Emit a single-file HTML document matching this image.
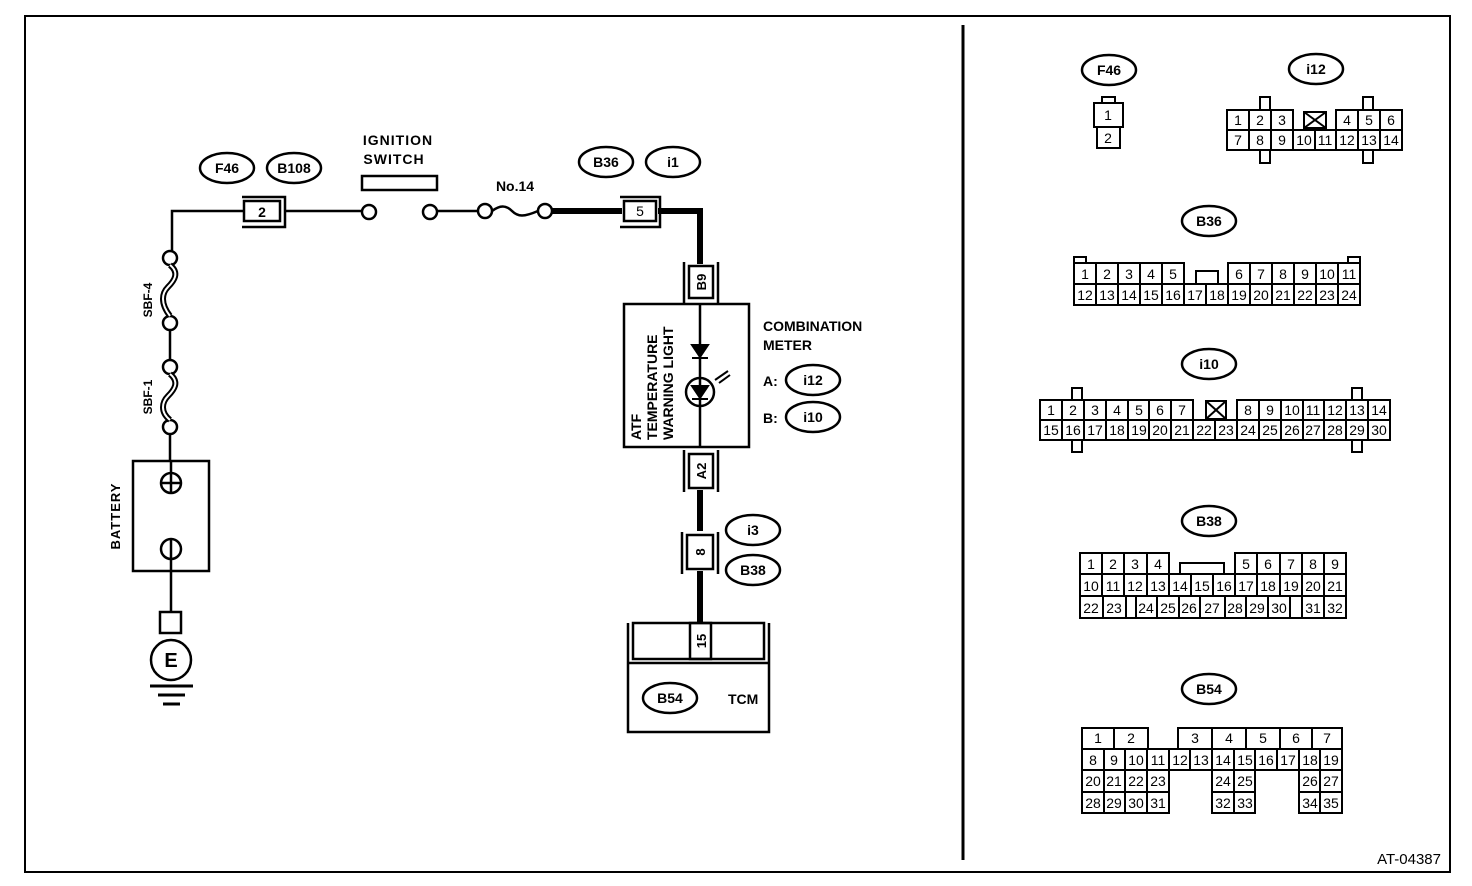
<!DOCTYPE html>
<html><head><meta charset="utf-8"><style>
html,body{margin:0;padding:0;background:#fff;}
svg{display:block;font-family:"Liberation Sans",Arial,sans-serif;}
.b{font-weight:bold;font-size:14px;}
.c{font-size:14px;}
</style></head><body>
<svg width="1472" height="886" viewBox="0 0 1472 886" xmlns="http://www.w3.org/2000/svg">
<rect x="25" y="16" width="1425" height="856" fill="none" stroke="#000" stroke-width="2"/>
<line x1="963" y1="25" x2="963" y2="860" stroke="#000" stroke-width="3"/>

<g fill="none" stroke="#000" stroke-width="2.5">
<!-- left wiring thin -->
<polyline points="172,251 172,211 244,211"/>
<line x1="285" y1="211" x2="362" y2="211"/>
<line x1="437" y1="211" x2="478" y2="211"/>
<circle cx="369" cy="212" r="7"/>
<circle cx="430" cy="212" r="7"/>
<circle cx="485" cy="211" r="7"/>
<circle cx="545" cy="211" r="7"/>
<path d="M492 211 c8 -6 14 -6 20 0 s12 6 26 0"/>
<rect x="362" y="176" width="75" height="14"/>
<!-- connector 2 -->
<rect x="244" y="201" width="36" height="20"/>
<polyline points="242,197 285,197 285,227 242,227"/>
<!-- fuses -->
<circle cx="170" cy="258" r="7"/>
<circle cx="170" cy="323" r="7"/>
<circle cx="170" cy="367" r="7"/>
<circle cx="170" cy="427" r="7"/>
<line x1="170" y1="330" x2="170" y2="360"/>
<line x1="170" y1="434" x2="170" y2="461"/>
</g>
<g fill="none">
<path d="M170 265 c10 8 4 16 -2 22 s-8 16 2 29" stroke="#000" stroke-width="6"/>
<path d="M170 265 c10 8 4 16 -2 22 s-8 16 2 29" stroke="#fff" stroke-width="2"/>
<path d="M170 374 c10 8 4 16 -2 22 s-8 16 2 24" stroke="#000" stroke-width="6"/>
<path d="M170 374 c10 8 4 16 -2 22 s-8 16 2 24" stroke="#fff" stroke-width="2"/>
</g>
<g fill="none" stroke="#000" stroke-width="2.5">
<!-- battery -->
<rect x="133" y="461" width="76" height="110"/>
<circle cx="171" cy="483" r="10"/>
<line x1="171" y1="461" x2="171" y2="493"/>
<line x1="161" y1="483" x2="181" y2="483"/>
<circle cx="171" cy="549" r="10"/>
<line x1="171" y1="539" x2="171" y2="612"/>
<rect x="160" y="612" width="21" height="21"/>
<circle cx="171" cy="660" r="20"/>
</g>
<g stroke="#000" stroke-width="3">
<line x1="150" y1="686" x2="193" y2="686"/>
<line x1="158" y1="695" x2="185" y2="695"/>
<line x1="163" y1="704" x2="180" y2="704"/>
</g>
<text x="171" y="667" text-anchor="middle" style="font-weight:bold;font-size:20px">E</text>
<text transform="translate(120,516) rotate(-90)" text-anchor="middle" class="b" style="font-size:13px;letter-spacing:1px">BATTERY</text>
<text transform="translate(152,300) rotate(-90)" text-anchor="middle" class="b" style="font-size:12px">SBF-4</text>
<text transform="translate(152,397) rotate(-90)" text-anchor="middle" class="b" style="font-size:12px">SBF-1</text>

<text x="398" y="145" text-anchor="middle" class="b" style="letter-spacing:1px">IGNITION</text>
<text x="394" y="164" text-anchor="middle" class="b" style="letter-spacing:1px">SWITCH</text>
<text x="515" y="191" text-anchor="middle" class="b">No.14</text>
<text x="262" y="217" text-anchor="middle" class="b">2</text>

<!-- thick wires -->
<g stroke="#000" stroke-width="6" fill="none">
<line x1="552" y1="211" x2="622" y2="211"/>
<polyline points="658,211 700,211 700,264"/>
<line x1="700" y1="490" x2="700" y2="531"/>
<line x1="700" y1="571" x2="700" y2="624"/>
</g>
<g fill="#fff" stroke="#000" stroke-width="2.5">
<rect x="624" y="201" width="32" height="20"/>
<rect x="689" y="266" width="24" height="32"/>
<rect x="689" y="454" width="24" height="34"/>
<rect x="687" y="535" width="26" height="34"/>
</g>
<g fill="none" stroke="#000" stroke-width="2.5">
<polyline points="620,197 660,197 660,227 620,227"/>
<polyline points="684,262 684,303"/><polyline points="718,262 718,303"/>
<polyline points="684,450 684,492"/><polyline points="718,450 718,492"/>
<polyline points="682,532 682,574"/><polyline points="718,532 718,574"/>
<!-- meter -->
<rect x="624" y="304" width="125" height="143"/>
<line x1="700" y1="304" x2="700" y2="447"/>
<circle cx="700" cy="392" r="14"/>
<!-- TCM -->
<polyline points="628,623 628,732 769,732 769,623"/>
<rect x="633" y="623" width="131" height="36"/>
<line x1="628" y1="663" x2="769" y2="663"/>
<rect x="690" y="623" width="21" height="36"/>
</g>
<g fill="#000" stroke="#000" stroke-width="2">
<polygon points="692,345 708,345 700,357"/>
<line x1="692" y1="358" x2="708" y2="358"/>
<polygon points="692,386 708,386 700,398"/>
<line x1="692" y1="399" x2="708" y2="399"/>
<line x1="715" y1="380" x2="728" y2="371"/>
<line x1="719" y1="383" x2="730" y2="375"/>
</g>
<text x="640" y="5" class="c" text-anchor="middle" transform="translate(0,211)">5</text>
<text transform="translate(706,282) rotate(-90)" text-anchor="middle" class="b" style="font-size:13px">B9</text>
<text transform="translate(706,471) rotate(-90)" text-anchor="middle" class="b" style="font-size:13px">A2</text>
<text transform="translate(705,552) rotate(-90)" text-anchor="middle" class="b" style="font-size:13px">8</text>
<text transform="translate(706,641) rotate(-90)" text-anchor="middle" class="b" style="font-size:13px">15</text>
<text transform="translate(641,440) rotate(-90)" class="b" style="font-size:14px">ATF</text>
<text transform="translate(657,440) rotate(-90)" class="b" style="font-size:14px">TEMPERATURE</text>
<text transform="translate(673,440) rotate(-90)" class="b" style="font-size:14px">WARNING LIGHT</text>
<text x="763" y="331" class="b">COMBINATION</text>
<text x="763" y="350" class="b">METER</text>
<text x="763" y="386" class="b">A:</text>
<text x="763" y="423" class="b">B:</text>
<text x="728" y="704" class="b">TCM</text>

<!-- ovals -->
<g fill="none" stroke="#000" stroke-width="2.5">
<ellipse cx="227" cy="168" rx="27" ry="15"/>
<ellipse cx="294" cy="168" rx="27" ry="15"/>
<ellipse cx="606" cy="162" rx="27" ry="15"/>
<ellipse cx="673" cy="162" rx="27" ry="15"/>
<ellipse cx="753" cy="530" rx="27" ry="15"/>
<ellipse cx="753" cy="570" rx="27" ry="15"/>
<ellipse cx="813" cy="380" rx="27" ry="15"/>
<ellipse cx="813" cy="417" rx="27" ry="15"/>
<ellipse cx="670" cy="698" rx="27" ry="15"/>
<ellipse cx="1109" cy="70" rx="27" ry="15"/>
<ellipse cx="1316" cy="69" rx="27" ry="15"/>
<ellipse cx="1209" cy="221" rx="27" ry="15"/>
<ellipse cx="1209" cy="364" rx="27" ry="15"/>
<ellipse cx="1209" cy="521" rx="27" ry="15"/>
<ellipse cx="1209" cy="689" rx="27" ry="15"/>
</g>
<g class="b" text-anchor="middle">
<text x="227" y="173">F46</text><text x="294" y="173">B108</text>
<text x="606" y="167">B36</text><text x="673" y="167">i1</text>
<text x="753" y="535">i3</text><text x="753" y="575">B38</text>
<text x="813" y="385">i12</text><text x="813" y="422">i10</text>
<text x="670" y="703">B54</text>
<text x="1109" y="75">F46</text><text x="1316" y="74">i12</text>
<text x="1209" y="226">B36</text><text x="1209" y="369">i10</text>
<text x="1209" y="526">B38</text><text x="1209" y="694">B54</text>
</g>

<!-- right connectors -->
<g fill="none" stroke="#000" stroke-width="2">
<!-- F46 -->
<rect x="1102" y="97" width="13" height="6"/>
<rect x="1094" y="103" width="29" height="24"/>
<rect x="1097" y="127" width="23" height="21"/>
<!-- i12 -->
<rect x="1260" y="97" width="10" height="13"/><rect x="1363" y="97" width="10" height="13"/>
<rect x="1260" y="150" width="10" height="13"/><rect x="1363" y="150" width="10" height="13"/>
<rect x="1227" y="110" width="22" height="20"/><rect x="1249" y="110" width="22" height="20"/><rect x="1271" y="110" width="22" height="20"/>
<rect x="1304" y="112" width="22" height="16"/><line x1="1304" y1="112" x2="1326" y2="128"/><line x1="1326" y1="112" x2="1304" y2="128"/>
<rect x="1336" y="110" width="22" height="20"/><rect x="1358" y="110" width="22" height="20"/><rect x="1380" y="110" width="22" height="20"/>
<rect x="1227" y="130" width="175" height="20"/>
<line x1="1249" y1="130" x2="1249" y2="150"/><line x1="1271" y1="130" x2="1271" y2="150"/><line x1="1293" y1="130" x2="1293" y2="150"/><line x1="1315" y1="130" x2="1315" y2="150"/><line x1="1336" y1="130" x2="1336" y2="150"/><line x1="1358" y1="130" x2="1358" y2="150"/><line x1="1380" y1="130" x2="1380" y2="150"/>
<!-- B36 -->
<rect x="1074" y="257" width="12" height="6"/><rect x="1348" y="257" width="12" height="6"/>
<polyline points="1074,284 1074,263 1184,263 1184,284"/>
<polyline points="1228,284 1228,263 1360,263 1360,284"/>
<rect x="1196" y="271" width="22" height="13"/>
<rect x="1074" y="284" width="286" height="21"/>
<line x1="1096" y1="263" x2="1096" y2="305"/><line x1="1118" y1="263" x2="1118" y2="305"/><line x1="1140" y1="263" x2="1140" y2="305"/><line x1="1162" y1="263" x2="1162" y2="305"/><line x1="1184" y1="284" x2="1184" y2="305"/><line x1="1206" y1="284" x2="1206" y2="305"/><line x1="1250" y1="263" x2="1250" y2="305"/><line x1="1272" y1="263" x2="1272" y2="305"/><line x1="1294" y1="263" x2="1294" y2="305"/><line x1="1316" y1="263" x2="1316" y2="305"/><line x1="1338" y1="263" x2="1338" y2="305"/><line x1="1228" y1="284" x2="1228" y2="305"/>
<!-- i10 -->
<rect x="1072" y="388" width="10" height="12"/><rect x="1352" y="388" width="10" height="12"/>
<rect x="1072" y="440" width="10" height="12"/><rect x="1352" y="440" width="10" height="12"/>
<polyline points="1040,420 1040,400 1193,400 1193,420"/>
<polyline points="1237,420 1237,400 1390,400 1390,420"/>
<rect x="1206" y="401" width="20" height="18"/><line x1="1206" y1="401" x2="1226" y2="419"/><line x1="1226" y1="401" x2="1206" y2="419"/>
<rect x="1040" y="420" width="350" height="20"/>
<line x1="1062" y1="400" x2="1062" y2="440"/><line x1="1084" y1="400" x2="1084" y2="440"/><line x1="1106" y1="400" x2="1106" y2="440"/><line x1="1128" y1="400" x2="1128" y2="440"/><line x1="1149" y1="400" x2="1149" y2="440"/><line x1="1171" y1="400" x2="1171" y2="440"/><line x1="1193" y1="420" x2="1193" y2="440"/><line x1="1215" y1="420" x2="1215" y2="440"/><line x1="1237" y1="420" x2="1237" y2="440"/><line x1="1259" y1="400" x2="1259" y2="440"/><line x1="1281" y1="400" x2="1281" y2="440"/><line x1="1303" y1="400" x2="1303" y2="440"/><line x1="1324" y1="400" x2="1324" y2="440"/><line x1="1346" y1="400" x2="1346" y2="440"/><line x1="1368" y1="400" x2="1368" y2="440"/>
<!-- B38 -->
<polyline points="1080,574 1080,553 1169,553 1169,574"/>
<polyline points="1235,574 1235,553 1346,553 1346,574"/>
<polyline points="1180,574 1180,563 1224,563 1224,574"/>
<rect x="1080" y="574" width="266" height="44"/>
<line x1="1080" y1="596" x2="1346" y2="596"/>
<line x1="1102" y1="553" x2="1102" y2="596"/><line x1="1124" y1="553" x2="1124" y2="596"/><line x1="1147" y1="553" x2="1147" y2="596"/><line x1="1169" y1="574" x2="1169" y2="596"/><line x1="1191" y1="574" x2="1191" y2="596"/><line x1="1213" y1="574" x2="1213" y2="596"/><line x1="1235" y1="574" x2="1235" y2="596"/><line x1="1257" y1="553" x2="1257" y2="596"/><line x1="1280" y1="553" x2="1280" y2="596"/><line x1="1302" y1="553" x2="1302" y2="596"/><line x1="1324" y1="553" x2="1324" y2="596"/>
<line x1="1103" y1="596" x2="1103" y2="618"/><line x1="1126" y1="596" x2="1126" y2="618"/><line x1="1136" y1="596" x2="1136" y2="618"/><line x1="1157" y1="596" x2="1157" y2="618"/><line x1="1179" y1="596" x2="1179" y2="618"/><line x1="1200" y1="596" x2="1200" y2="618"/><line x1="1225" y1="596" x2="1225" y2="618"/><line x1="1246" y1="596" x2="1246" y2="618"/><line x1="1268" y1="596" x2="1268" y2="618"/><line x1="1290" y1="596" x2="1290" y2="618"/><line x1="1302" y1="596" x2="1302" y2="618"/><line x1="1324" y1="596" x2="1324" y2="618"/>
<!-- B54 -->
<polyline points="1082,749 1082,728 1148,728 1148,749"/>
<line x1="1114" y1="728" x2="1114" y2="749"/>
<polyline points="1178,749 1178,728 1342,728 1342,749"/>
<line x1="1212" y1="728" x2="1212" y2="749"/><line x1="1246" y1="728" x2="1246" y2="749"/><line x1="1280" y1="728" x2="1280" y2="749"/><line x1="1312" y1="728" x2="1312" y2="749"/>
<rect x="1082" y="749" width="260" height="21"/>
<line x1="1104" y1="749" x2="1104" y2="770"/><line x1="1125" y1="749" x2="1125" y2="770"/><line x1="1147" y1="749" x2="1147" y2="770"/><line x1="1169" y1="749" x2="1169" y2="770"/><line x1="1190" y1="749" x2="1190" y2="770"/><line x1="1212" y1="749" x2="1212" y2="770"/><line x1="1234" y1="749" x2="1234" y2="770"/><line x1="1255" y1="749" x2="1255" y2="770"/><line x1="1277" y1="749" x2="1277" y2="770"/><line x1="1299" y1="749" x2="1299" y2="770"/><line x1="1320" y1="749" x2="1320" y2="770"/>
<rect x="1082" y="770" width="87" height="43"/><line x1="1082" y1="792" x2="1169" y2="792"/><line x1="1104" y1="770" x2="1104" y2="813"/><line x1="1125" y1="770" x2="1125" y2="813"/><line x1="1147" y1="770" x2="1147" y2="813"/>
<rect x="1212" y="770" width="43" height="43"/><line x1="1212" y1="792" x2="1255" y2="792"/><line x1="1234" y1="770" x2="1234" y2="813"/>
<rect x="1299" y="770" width="43" height="43"/><line x1="1299" y1="792" x2="1342" y2="792"/><line x1="1320" y1="770" x2="1320" y2="813"/>
</g>

<g class="c" text-anchor="middle">
<text x="1108" y="120">1</text><text x="1108" y="143">2</text>
<text x="1238" y="125">1</text><text x="1260" y="125">2</text><text x="1282" y="125">3</text><text x="1347" y="125">4</text><text x="1369" y="125">5</text><text x="1391" y="125">6</text>
<text x="1238" y="145">7</text><text x="1260" y="145">8</text><text x="1282" y="145">9</text><text x="1304" y="145">10</text><text x="1325" y="145">11</text><text x="1347" y="145">12</text><text x="1369" y="145">13</text><text x="1391" y="145">14</text>

<text x="1085" y="279">1</text><text x="1107" y="279">2</text><text x="1129" y="279">3</text><text x="1151" y="279">4</text><text x="1173" y="279">5</text><text x="1239" y="279">6</text><text x="1261" y="279">7</text><text x="1283" y="279">8</text><text x="1305" y="279">9</text><text x="1327" y="279">10</text><text x="1349" y="279">11</text>
<text x="1085" y="300">12</text><text x="1107" y="300">13</text><text x="1129" y="300">14</text><text x="1151" y="300">15</text><text x="1173" y="300">16</text><text x="1195" y="300">17</text><text x="1217" y="300">18</text><text x="1239" y="300">19</text><text x="1261" y="300">20</text><text x="1283" y="300">21</text><text x="1305" y="300">22</text><text x="1327" y="300">23</text><text x="1349" y="300">24</text>

<text x="1051" y="415">1</text><text x="1073" y="415">2</text><text x="1095" y="415">3</text><text x="1117" y="415">4</text><text x="1139" y="415">5</text><text x="1160" y="415">6</text><text x="1182" y="415">7</text><text x="1248" y="415">8</text><text x="1270" y="415">9</text><text x="1292" y="415">10</text><text x="1313" y="415">11</text><text x="1335" y="415">12</text><text x="1357" y="415">13</text><text x="1379" y="415">14</text>
<text x="1051" y="435">15</text><text x="1073" y="435">16</text><text x="1095" y="435">17</text><text x="1117" y="435">18</text><text x="1139" y="435">19</text><text x="1160" y="435">20</text><text x="1182" y="435">21</text><text x="1204" y="435">22</text><text x="1226" y="435">23</text><text x="1248" y="435">24</text><text x="1270" y="435">25</text><text x="1292" y="435">26</text><text x="1313" y="435">27</text><text x="1335" y="435">28</text><text x="1357" y="435">29</text><text x="1379" y="435">30</text>

<text x="1091" y="569">1</text><text x="1113" y="569">2</text><text x="1135" y="569">3</text><text x="1158" y="569">4</text><text x="1246" y="569">5</text><text x="1268" y="569">6</text><text x="1291" y="569">7</text><text x="1313" y="569">8</text><text x="1335" y="569">9</text>
<text x="1091" y="591">10</text><text x="1113" y="591">11</text><text x="1135" y="591">12</text><text x="1158" y="591">13</text><text x="1180" y="591">14</text><text x="1202" y="591">15</text><text x="1224" y="591">16</text><text x="1246" y="591">17</text><text x="1268" y="591">18</text><text x="1291" y="591">19</text><text x="1313" y="591">20</text><text x="1335" y="591">21</text>
<text x="1091" y="613">22</text><text x="1114" y="613">23</text><text x="1146" y="613">24</text><text x="1168" y="613">25</text><text x="1189" y="613">26</text><text x="1212" y="613">27</text><text x="1235" y="613">28</text><text x="1257" y="613">29</text><text x="1279" y="613">30</text><text x="1313" y="613">31</text><text x="1335" y="613">32</text>

<text x="1098" y="743">1</text><text x="1131" y="743">2</text><text x="1195" y="743">3</text><text x="1229" y="743">4</text><text x="1263" y="743">5</text><text x="1296" y="743">6</text><text x="1327" y="743">7</text>
<text x="1093" y="765">8</text><text x="1114" y="765">9</text><text x="1136" y="765">10</text><text x="1158" y="765">11</text><text x="1180" y="765">12</text><text x="1201" y="765">13</text><text x="1223" y="765">14</text><text x="1245" y="765">15</text><text x="1266" y="765">16</text><text x="1288" y="765">17</text><text x="1310" y="765">18</text><text x="1331" y="765">19</text>
<text x="1093" y="786">20</text><text x="1114" y="786">21</text><text x="1136" y="786">22</text><text x="1158" y="786">23</text><text x="1223" y="786">24</text><text x="1245" y="786">25</text><text x="1310" y="786">26</text><text x="1331" y="786">27</text>
<text x="1093" y="808">28</text><text x="1114" y="808">29</text><text x="1136" y="808">30</text><text x="1158" y="808">31</text><text x="1223" y="808">32</text><text x="1245" y="808">33</text><text x="1310" y="808">34</text><text x="1331" y="808">35</text>
</g>
<text x="1441" y="864" text-anchor="end" style="font-size:15px">AT-04387</text>
</svg>
</body></html>
